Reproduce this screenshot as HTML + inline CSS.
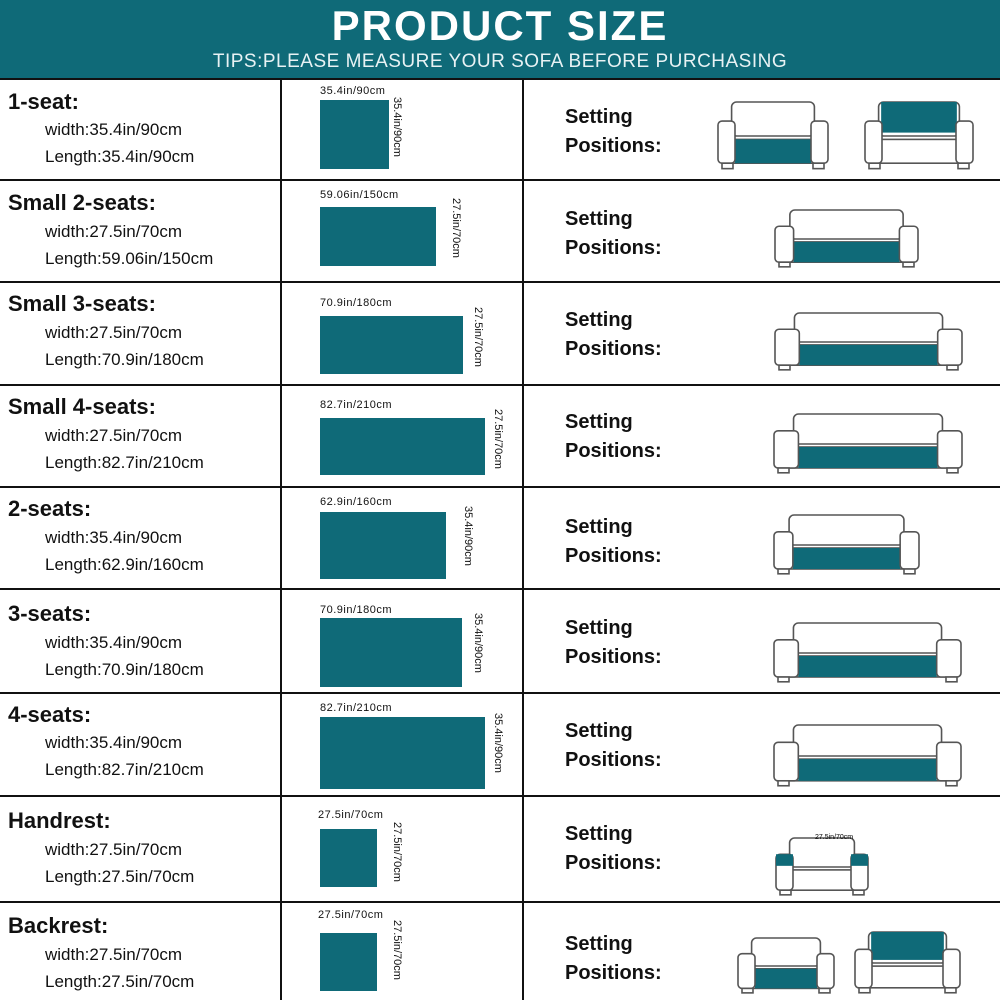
<!DOCTYPE html>
<html><head><meta charset="utf-8"><style>
body{margin:0;width:1000px;height:1000px;position:relative;background:#fff;font-family:"Liberation Sans",sans-serif;overflow:hidden}
.hdr{position:absolute;left:0;top:0;width:1000px;height:78px;background:#0f6a78;color:#fff;text-align:center}
.hdr h1{margin:0;position:absolute;top:2px;width:100%;font-size:42px;letter-spacing:2px;font-weight:bold}
.hdr p{margin:0;position:absolute;top:51px;width:100%;font-size:19px;letter-spacing:0.5px;color:#e8f2f4}
.hl{position:absolute;left:0;width:1000px;height:2px;background:#111}
.vl{position:absolute;width:2px;background:#111;top:78px;height:922px}
.t{position:absolute;left:8px;font-size:22px;font-weight:bold;color:#111}
.d{position:absolute;left:45px;font-size:17px;color:#111}
.r{position:absolute;background:#0f6a78}
.lt{position:absolute;font-size:11px;color:#111;letter-spacing:.5px}
.lv{position:absolute;font-size:11px;color:#111;writing-mode:vertical-rl}
.s{position:absolute;left:565px;font-size:20px;font-weight:bold;color:#111;line-height:29px}
svg{position:absolute;left:0;top:0}
</style></head><body>
<div class="hdr"><h1>PRODUCT SIZE</h1><p>TIPS:PLEASE MEASURE YOUR SOFA BEFORE PURCHASING</p></div>
<div class="hl" style="top:78px"></div>
<div class="hl" style="top:179px"></div>
<div class="hl" style="top:281px"></div>
<div class="hl" style="top:384px"></div>
<div class="hl" style="top:486px"></div>
<div class="hl" style="top:588px"></div>
<div class="hl" style="top:692px"></div>
<div class="hl" style="top:795px"></div>
<div class="hl" style="top:901px"></div>
<div class="vl" style="left:280px"></div>
<div class="vl" style="left:522px"></div>

<div class="t" style="top:89px">1-seat:</div><div class="d" style="top:120px">width:35.4in/90cm</div><div class="d" style="top:147px">Length:35.4in/90cm</div>
<div class="t" style="top:190px">Small 2-seats:</div><div class="d" style="top:222px">width:27.5in/70cm</div><div class="d" style="top:249px">Length:59.06in/150cm</div>
<div class="t" style="top:291px">Small 3-seats:</div><div class="d" style="top:323px">width:27.5in/70cm</div><div class="d" style="top:350px">Length:70.9in/180cm</div>
<div class="t" style="top:394px">Small 4-seats:</div><div class="d" style="top:426px">width:27.5in/70cm</div><div class="d" style="top:453px">Length:82.7in/210cm</div>
<div class="t" style="top:496px">2-seats:</div><div class="d" style="top:528px">width:35.4in/90cm</div><div class="d" style="top:555px">Length:62.9in/160cm</div>
<div class="t" style="top:601px">3-seats:</div><div class="d" style="top:633px">width:35.4in/90cm</div><div class="d" style="top:660px">Length:70.9in/180cm</div>
<div class="t" style="top:702px">4-seats:</div><div class="d" style="top:733px">width:35.4in/90cm</div><div class="d" style="top:760px">Length:82.7in/210cm</div>
<div class="t" style="top:808px">Handrest:</div><div class="d" style="top:840px">width:27.5in/70cm</div><div class="d" style="top:867px">Length:27.5in/70cm</div>
<div class="t" style="top:913px">Backrest:</div><div class="d" style="top:945px">width:27.5in/70cm</div><div class="d" style="top:972px">Length:27.5in/70cm</div>

<div class="lt" style="left:320px;top:85px">35.4in/90cm</div><div class="r" style="left:320px;top:100px;width:69px;height:69px"></div><div class="lv" style="left:391px;top:97px">35.4in/90cm</div>
<div class="lt" style="left:320px;top:189px">59.06in/150cm</div><div class="r" style="left:320px;top:207px;width:116px;height:59px"></div><div class="lv" style="left:450px;top:198px">27.5in/70cm</div>
<div class="lt" style="left:320px;top:297px">70.9in/180cm</div><div class="r" style="left:320px;top:316px;width:143px;height:58px"></div><div class="lv" style="left:472px;top:307px">27.5in/70cm</div>
<div class="lt" style="left:320px;top:399px">82.7in/210cm</div><div class="r" style="left:320px;top:418px;width:165px;height:57px"></div><div class="lv" style="left:492px;top:409px">27.5in/70cm</div>
<div class="lt" style="left:320px;top:496px">62.9in/160cm</div><div class="r" style="left:320px;top:512px;width:126px;height:67px"></div><div class="lv" style="left:462px;top:506px">35.4in/90cm</div>
<div class="lt" style="left:320px;top:604px">70.9in/180cm</div><div class="r" style="left:320px;top:618px;width:142px;height:69px"></div><div class="lv" style="left:472px;top:613px">35.4in/90cm</div>
<div class="lt" style="left:320px;top:702px">82.7in/210cm</div><div class="r" style="left:320px;top:717px;width:165px;height:72px"></div><div class="lv" style="left:492px;top:713px">35.4in/90cm</div>
<div class="lt" style="left:318px;top:809px">27.5in/70cm</div><div class="r" style="left:320px;top:829px;width:57px;height:58px"></div><div class="lv" style="left:391px;top:822px">27.5in/70cm</div>
<div class="lt" style="left:318px;top:909px">27.5in/70cm</div><div class="r" style="left:320px;top:933px;width:57px;height:58px"></div><div class="lv" style="left:391px;top:920px">27.5in/70cm</div>

<div class="s" style="top:103px">Setting<br>Positions:</div>
<div class="s" style="top:205px">Setting<br>Positions:</div>
<div class="s" style="top:306px">Setting<br>Positions:</div>
<div class="s" style="top:408px">Setting<br>Positions:</div>
<div class="s" style="top:513px">Setting<br>Positions:</div>
<div class="s" style="top:614px">Setting<br>Positions:</div>
<div class="s" style="top:717px">Setting<br>Positions:</div>
<div class="s" style="top:820px">Setting<br>Positions:</div>
<div class="s" style="top:930px">Setting<br>Positions:</div>

<svg id="sv" width="1000" height="1000"></svg>
<script>
var out='';
function sofa(x,y,w,h,mode){
 var aw=Math.max(17,w*0.13), st='fill="#fff" stroke="#555" stroke-width="1.6"';
 var by=y, ay=y+h*0.28, sy=y+h*0.55, fy=y+h*0.9;
 var s='';
 s+='<rect x="'+(x+aw*0.8)+'" y="'+by+'" width="'+(w-aw*1.6)+'" height="'+(h*0.5)+'" rx="5" '+st+'/>';
 if(mode==2) s+='<rect x="'+(x+aw*0.95)+'" y="'+by+'" width="'+(w-aw*1.9)+'" height="'+(h*0.45)+'" fill="#0f6a78"/>';
 s+='<rect x="'+(x+aw*0.6)+'" y="'+sy+'" width="'+(w-aw*1.2)+'" height="'+(fy-sy)+'" '+st+'/>';
 if(mode==1||mode==0) s+='<rect x="'+(x+aw)+'" y="'+sy+'" width="'+(w-aw*2)+'" height="'+(fy-sy)+'" fill="#0f6a78"/>';
 s+='<rect x="'+x+'" y="'+ay+'" width="'+aw+'" height="'+(fy-ay)+'" rx="4" '+st+'/>';
 s+='<rect x="'+(x+w-aw)+'" y="'+ay+'" width="'+aw+'" height="'+(fy-ay)+'" rx="4" '+st+'/>';
 if(mode==3){s+='<rect x="'+x+'" y="'+ay+'" width="'+aw+'" height="'+(h*0.2)+'" fill="#0f6a78"/><rect x="'+(x+w-aw)+'" y="'+ay+'" width="'+aw+'" height="'+(h*0.2)+'" fill="#0f6a78"/>';}
 s+='<rect x="'+(x+4)+'" y="'+fy+'" width="11" height="'+(h*0.08)+'" '+st+'/>';
 s+='<rect x="'+(x+w-15)+'" y="'+fy+'" width="11" height="'+(h*0.08)+'" '+st+'/>';
 out+=s;
}
sofa(718,102,110,68,1);sofa(865,102,108,68,2);
sofa(775,210,143,58,1);
sofa(775,313,187,58,1);
sofa(774,414,188,60,1);
sofa(774,515,145,60,1);
sofa(774,623,187,60,1);
sofa(774,725,187,62,1);
sofa(776,838,92,58,3);
out+='<text x="815" y="839" font-size="7" font-family="Liberation Sans">27.5in/70cm</text>';
sofa(738,938,96,56,1);sofa(855,932,105,62,2);
document.getElementById('sv').innerHTML=out;
</script>
</body></html>
